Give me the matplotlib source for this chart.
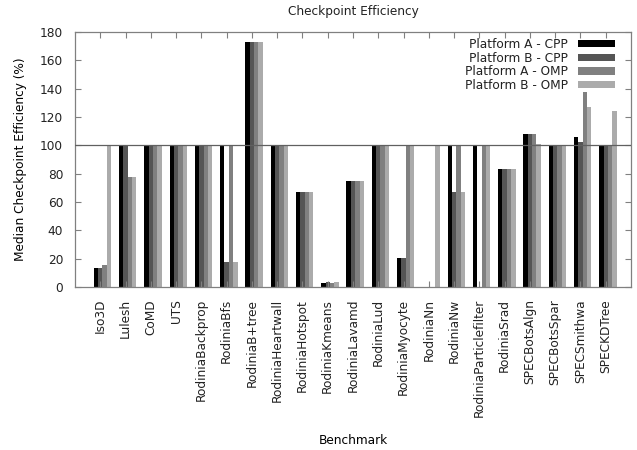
import numpy as np
import matplotlib
matplotlib.use('Agg')
import matplotlib.pyplot as plt

benchmarks = ['Iso3D', 'Lulesh', 'CoMD', 'UTS', 'RodiniaBackprop', 'RodiniaBfs',
              'RodiniaB+tree', 'RodiniaHeartwall', 'RodiniaHotspot', 'RodiniaKmeans',
              'RodiniaLavamd', 'RodiniaLud', 'RodiniaMyocyte', 'RodiniaNn', 'RodiniaNw',
              'RodiniaParticlefilter', 'RodiniaSrad', 'SPECBotsAlgn', 'SPECBotsSpar',
              'SPECSmithwa', 'SPECKDTree']

a_cpp = [13.4, 100, 100, 100, 100, 100, 173.2, 100, 66.8, 2.8, 74.6,
         100, 20.8, 0, 100, 100, 83.5, 107.9, 100, 106.2, 100]
b_cpp = [13.4, 100, 100, 100, 100, 18, 173.2, 100, 66.8, 3.8, 74.6,
         100, 20.8, 0, 66.8, 0, 83.5, 107.9, 100, 102.2, 100]
a_omp = [15.3, 77.4, 100, 100, 100, 100, 173.2, 100, 66.8, 2.8, 74.6,
         100, 100, 0, 100, 100, 83.5, 107.9, 100, 138, 100]
b_omp = [100, 77.4, 100, 100, 100, 18, 173.2, 100, 66.8, 3.8, 74.6,
         100, 100, 100, 66.8, 100, 83.5, 100.8, 100, 127.2, 124.1]

series = [('Platform A - CPP', a_cpp, '#000000'),
          ('Platform B - CPP', b_cpp, '#555555'),
          ('Platform A - OMP', a_omp, '#808080'),
          ('Platform B - OMP', b_omp, '#ababab')]

plt.rcParams['font.family'] = 'DejaVu Sans'
plt.rcParams['font.size'] = 8.7
plt.rcParams['text.color'] = '#222222'

fig = plt.figure(figsize=(6.37, 4.5), dpi=100)
ax = fig.add_axes([75 / 637, 163 / 450, 556 / 637, 255 / 450])

x = np.arange(len(benchmarks))
w = 0.173
for k, (name, vals, col) in enumerate(series):
    ax.bar(x + (k - 1) * w, vals, width=w, color=col, label=name, linewidth=0)

# reference line at 100%
ax.axhline(100, color='#606060', linewidth=0.9, zorder=3)

ax.set_xlim(-1, 21)
ax.set_ylim(0, 180)
ax.set_yticks(range(0, 181, 20))
ax.set_xticks(x)
ax.set_xticklabels(benchmarks, rotation=90)
ax.tick_params(direction='in', length=4, top=True, right=True, color='#808080',
               labelcolor='#222222', pad=8.6)
for s in ax.spines.values():
    s.set_color('#808080')
    s.set_linewidth(0.9)

ax.set_title('Checkpoint Efficiency', fontsize=8.7, pad=12)
ax.set_ylabel('Median Checkpoint Efficiency (%)', labelpad=9)
ax.set_xlabel('Benchmark', labelpad=11.8)

ax.legend(loc='upper right', bbox_to_anchor=(615 / 637, 1 - 38 / 450),
          bbox_transform=fig.transFigure, frameon=False, markerfirst=False,
          handlelength=3.06, handleheight=0.58, labelspacing=0.05, borderpad=0,
          borderaxespad=0, handletextpad=0.83, fontsize=8.7)

fig.savefig('out.png', dpi=100)
